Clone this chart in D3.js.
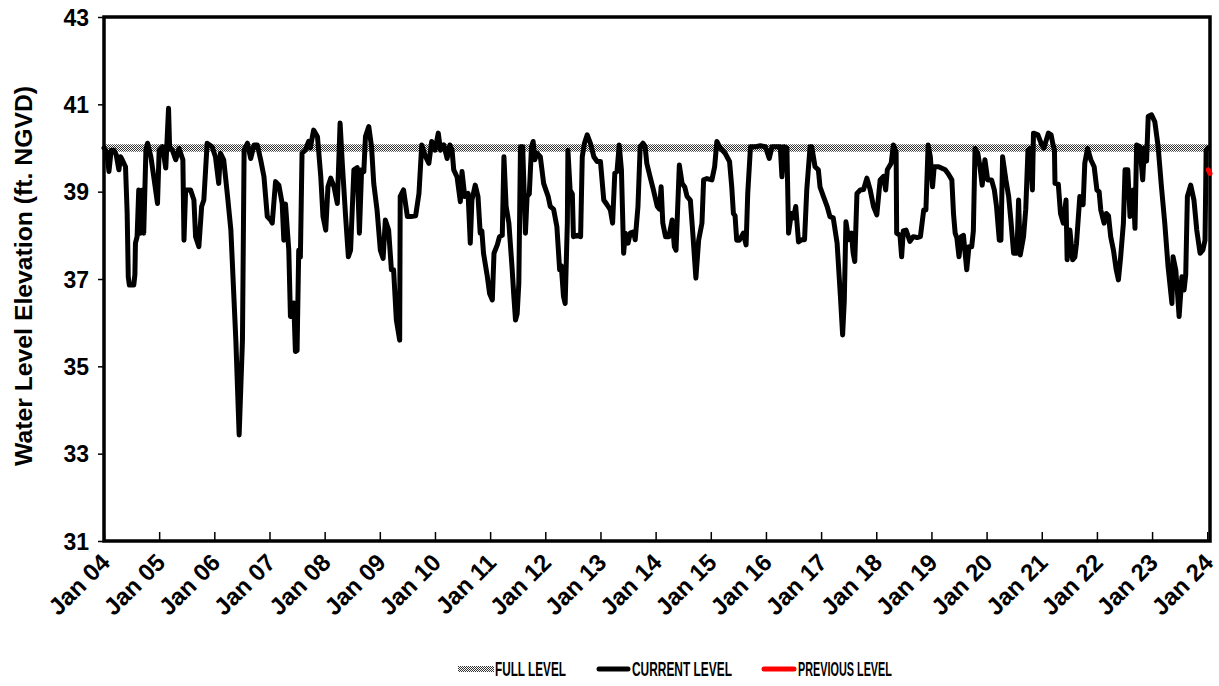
<!DOCTYPE html>
<html><head><meta charset="utf-8">
<script src="https://cdn.jsdelivr.net/npm/d3@7"></script>
<style>body{margin:0;background:#fff}svg{display:block}</style>
</head><body><svg id="c" width="1219" height="686"></svg>
<script>
// ---------- data ----------
const yearTicks = d3.range(2004, 2025);
const tickLabels = yearTicks.map(y => "Jan " + String(y % 100).padStart(2, "0"));
const yTicks = [31, 33, 35, 37, 39, 41, 43];
const yLabel = "Water Level Elevation (ft. NGVD)";
const legendLabels = ["FULL LEVEL", "CURRENT LEVEL", "PREVIOUS LEVEL"];
const fullLevel = 40;

const currentDates = [
2004.00,2004.03,2004.06,2004.09,2004.13,2004.18,2004.22,2004.27,2004.30,2004.33,2004.39,2004.42,2004.44,2004.46,2004.54,2004.56,2004.57,2004.60,2004.63,2004.66,2004.70,2004.72,2004.76,2004.79,2004.85,2004.91,2004.97,
2005.00,2005.06,2005.12,2005.17,2005.19,2005.24,2005.30,2005.36,2005.43,2005.45,2005.48,2005.57,2005.63,2005.66,2005.72,2005.77,2005.81,2005.87,2005.96,
2006.02,2006.08,2006.11,2006.17,2006.24,2006.30,2006.39,2006.45,2006.51,2006.54,2006.60,2006.66,2006.72,2006.78,2006.84,2006.90,2006.96,
2007.02,2007.05,2007.11,2007.17,2007.23,2007.26,2007.29,2007.35,2007.38,2007.44,2007.47,2007.50,2007.53,2007.56,2007.59,2007.65,2007.71,2007.74,2007.80,2007.87,2007.93,2007.97,
2008.02,2008.06,2008.11,2008.17,2008.23,2008.28,2008.32,2008.38,2008.43,2008.47,2008.53,2008.59,2008.63,2008.67,2008.71,2008.74,2008.80,2008.85,2008.89,2008.95,
2009.01,2009.06,2009.10,2009.16,2009.21,2009.25,2009.30,2009.36,2009.37,2009.43,2009.50,2009.56,2009.65,2009.71,2009.76,2009.83,2009.89,2009.94,
2010.00,2010.06,2010.10,2010.16,2010.22,2010.27,2010.31,2010.34,2010.40,2010.46,2010.49,2010.54,2010.60,2010.64,2010.67,2010.73,2010.78,2010.82,2010.85,2010.88,2010.95,2010.99,
2011.04,2011.07,2011.13,2011.17,2011.22,2011.25,2011.29,2011.34,2011.40,2011.43,2011.46,2011.49,2011.52,2011.55,2011.59,2011.64,2011.67,2011.71,2011.75,2011.78,2011.81,2011.85,2011.91,2011.97,
2012.01,2012.05,2012.09,2012.15,2012.21,2012.26,2012.29,2012.33,2012.36,2012.40,2012.41,2012.45,2012.49,2012.51,2012.58,2012.64,2012.67,2012.71,2012.76,2012.82,2012.88,2012.94,
2013.00,2013.06,2013.12,2013.18,2013.22,2013.26,2013.30,2013.34,2013.38,2013.42,2013.45,2013.50,2013.54,2013.60,2013.63,2013.68,2013.72,2013.77,2013.81,2013.84,2013.90,2013.96,
2014.03,2014.07,2014.10,2014.13,2014.18,2014.24,2014.30,2014.34,2014.37,2014.43,2014.48,2014.53,2014.57,2014.63,2014.67,2014.73,2014.78,2014.84,2014.87,2014.93,
2015.02,2015.07,2015.11,2015.17,2015.26,2015.34,2015.38,2015.41,2015.44,2015.47,2015.52,2015.59,2015.64,2015.67,2015.72,2015.81,2015.90,2015.99,
2016.06,2016.11,2016.26,2016.29,2016.33,2016.38,2016.41,2016.46,2016.50,2016.54,2016.59,2016.65,2016.70,2016.74,2016.80,2016.83,2016.89,2016.95,2016.98,
2017.04,2017.11,2017.16,2017.22,2017.29,2017.35,2017.39,2017.42,2017.45,2017.50,2017.55,2017.58,2017.61,2017.65,2017.71,2017.77,2017.83,2017.89,2017.95,
2018.01,2018.07,2018.13,2018.17,2018.20,2018.27,2018.31,2018.36,2018.37,2018.43,2018.46,2018.49,2018.54,2018.61,2018.67,2018.74,2018.80,2018.86,2018.90,2018.94,2018.98,
2019.02,2019.05,2019.13,2019.25,2019.31,2019.37,2019.40,2019.43,2019.46,2019.50,2019.54,2019.58,2019.64,2019.68,2019.73,2019.76,2019.79,2019.84,2019.88,2019.92,2019.97,
2020.02,2020.09,2020.14,2020.18,2020.23,2020.26,2020.29,2020.35,2020.40,2020.44,2020.49,2020.55,2020.58,2020.61,2020.67,2020.71,2020.75,2020.79,2020.83,2020.85,2020.93,
2021.00,2021.04,2021.12,2021.17,2021.20,2021.23,2021.24,2021.30,2021.34,2021.39,2021.44,2021.46,2021.51,2021.56,2021.60,2021.63,2021.69,2021.75,2021.78,2021.83,2021.89,2021.95,
2022.00,2022.04,2022.07,2022.13,2022.17,2022.21,2022.25,2022.30,2022.35,2022.39,2022.43,2022.48,2022.51,2022.56,2022.60,2022.66,2022.69,2022.72,2022.78,2022.83,2022.86,2022.90,2022.93,2022.99,
2023.05,2023.11,2023.17,2023.23,2023.29,2023.36,2023.38,2023.43,2023.46,2023.49,2023.54,2023.58,2023.61,2023.64,2023.70,2023.76,2023.81,2023.87,2023.92,2023.96,2023.98,2024.01
];
const currentLevels = [
40.0,39.95,39.8,39.46,39.95,39.95,39.85,39.5,39.8,39.73,39.57,38.5,37.05,36.86,36.86,37.1,37.82,37.97,39.04,38.05,39.04,38.05,39.95,40.11,39.80,39.27,38.73,
39.95,40.03,39.54,40.91,40.0,39.95,39.73,39.99,39.73,37.89,39.04,39.04,38.81,37.97,37.74,38.66,38.81,40.11,40.03,
39.80,39.19,39.88,39.73,38.89,38.12,35.60,33.43,35.60,39.95,40.11,39.76,40.07,40.07,39.73,39.34,38.43,
38.35,38.28,39.23,39.15,38.73,37.89,38.72,37.66,36.14,36.45,35.34,35.36,37.66,37.5,39.88,39.95,40.15,40.0,40.41,40.26,39.34,38.43,
38.12,39.11,39.31,39.11,38.73,40.57,39.65,38.43,37.51,37.66,39.50,39.55,38.05,39.50,39.46,40.26,40.49,40.03,39.19,38.58,
37.66,37.47,38.35,38.12,37.21,37.21,36.06,35.6,38.89,39.04,38.43,38.43,38.45,38.96,40.07,39.80,39.65,40.15,
39.95,40.34,39.95,40.07,39.76,40.07,39.95,39.50,39.34,38.77,39.46,38.89,38.96,37.82,38.81,39.15,38.89,38.05,38.1,37.59,37.05,36.67,
36.52,37.59,37.78,37.97,38.0,39.80,38.66,38.28,37.21,36.6,36.06,36.2,36.9,40.03,40.03,38.05,38.89,38.95,40.03,40.15,39.73,39.88,39.80,39.19,
39.04,38.9,38.66,38.6,38.2,37.21,37.3,36.6,36.44,38.3,39.95,39.04,38.95,37.97,38.0,37.97,39.80,40.11,40.30,40.1,39.8,39.69,
39.69,38.81,38.7,38.58,38.28,39.42,39.46,40.07,39.5,37.59,38.05,37.82,38.05,38.08,37.9,38.66,40.03,40.11,40.03,39.65,39.34,39.04,
38.66,38.6,39.11,38.28,37.97,37.97,38.35,37.74,37.66,39.61,39.19,39.1,38.89,38.8,38.12,37.02,37.89,38.28,39.27,39.3,
39.27,39.57,40.15,40.0,39.88,39.69,39.11,38.5,38.45,37.89,37.89,38.05,37.78,38.96,40.03,40.03,40.05,40.03,
39.76,40.03,40.03,39.34,40.03,40.0,38.05,38.5,38.4,38.66,37.85,37.9,37.9,39.04,40.03,40.03,39.57,39.5,39.11,
38.9,38.66,38.43,38.4,37.82,36.6,35.72,36.5,38.31,37.9,38.05,37.6,37.40,38.96,39.04,39.05,39.31,39.04,38.66,
38.47,39.27,39.35,39.04,39.5,39.65,40.07,39.9,38.05,38.0,37.51,38.1,38.12,37.86,37.97,37.95,37.97,38.58,38.58,40.07,39.8,
39.11,39.57,39.57,39.50,39.4,39.27,38.5,38.05,37.95,37.51,37.97,38.0,37.21,37.74,37.74,38.1,39.99,39.88,39.57,39.15,39.73,
39.27,39.27,39.04,38.66,37.89,37.89,39.80,39.27,38.89,38.35,37.59,37.59,38.81,37.55,37.97,38.6,39.95,39.99,39.04,40.34,40.3,
40.07,40.0,40.34,40.3,40.1,39.95,39.19,39.17,38.5,38.28,38.81,37.44,38.12,37.44,37.5,37.82,38.89,38.7,39.65,39.99,39.73,39.57,
39.04,39.0,38.58,38.28,38.5,38.45,37.97,37.66,37.21,36.98,37.5,38.28,39.50,39.50,38.43,39.04,38.16,40.07,40.03,39.27,40.0,39.7,40.72,40.76,
40.6,40.03,39.11,38.28,37.28,36.44,37.51,37.2,36.7,36.14,37.05,36.75,37.1,38.89,39.15,38.8,38.12,37.59,37.66,37.89,39.95,40.0
];
const previousDates = [2024.02, 2024.05];
const previousLevels = [39.5, 39.42];

// ---------- drawing ----------
const svg = d3.select("#c");
const mL = 104, mR = 1210, mT = 17, mB = 541;
const FONT = "Arial, 'Liberation Sans', sans-serif";

const x = d3.scaleLinear().domain([2004, 2024.05]).range([mL, mR]);
const y = d3.scaleLinear().domain([31, 43]).range([mB, mT]);

const defs = svg.append("defs");
const pat = defs.append("pattern").attr("id", "chk").attr("patternUnits", "userSpaceOnUse")
  .attr("width", 2).attr("height", 2);
pat.append("rect").attr("width", 2).attr("height", 2).attr("fill", "#fff");
pat.append("rect").attr("width", 1).attr("height", 1).attr("fill", "#333");
pat.append("rect").attr("x", 1).attr("y", 1).attr("width", 1).attr("height", 1).attr("fill", "#333");

// full level band
svg.append("rect")
  .attr("x", x(2004)).attr("width", x(2024.05) - x(2004))
  .attr("y", y(fullLevel) - 3.7).attr("height", 7.4)
  .attr("fill", "url(#chk)");

// current level line
const data = currentDates.map((d, i) => [d, currentLevels[i]]);
const line = d3.line().x(d => x(d[0])).y(d => y(d[1]));
svg.append("path").datum(data)
  .attr("d", line).attr("fill", "none").attr("stroke", "#000")
  .attr("stroke-width", 5).attr("stroke-linejoin", "round").attr("stroke-linecap", "round");

// y axis
const yAxis = svg.append("g").attr("transform", `translate(${mL},0)`)
  .call(d3.axisLeft(y).tickValues(yTicks).tickSize(6).tickPadding(9).tickFormat(d3.format("d")));
yAxis.select(".domain").remove();
yAxis.selectAll("line").attr("stroke", "#000").attr("stroke-width", 1.5);
yAxis.selectAll("text").attr("font-family", FONT)
  .attr("font-weight", "bold").attr("font-size", 23).attr("fill", "#000").attr("dy", "0.36em");

// x axis (inward ticks)
const xAxis = svg.append("g").attr("transform", `translate(0,${mB})`)
  .call(d3.axisBottom(x).tickValues(yearTicks).tickSize(-9).tickFormat((d, i) => tickLabels[i]));
xAxis.select(".domain").remove();
xAxis.selectAll("line").attr("stroke", "#000").attr("stroke-width", 1.5);
xAxis.selectAll("text")
  .attr("font-family", FONT)
  .attr("font-weight", "bold").attr("font-size", 24).attr("fill", "#000")
  .attr("text-anchor", "end").attr("x", 0).attr("y", 0).attr("dy", "0.35em")
  .attr("transform", "translate(1,17) rotate(-45)");

// frame
svg.append("rect").attr("x", mL).attr("y", mT).attr("width", mR - mL).attr("height", mB - mT)
  .attr("fill", "none").attr("stroke", "#000").attr("stroke-width", 3.5);

// previous level
const prev = previousDates.map((d, i) => [d, previousLevels[i]]);
svg.append("path").datum(prev).attr("d", line).attr("fill", "none")
  .attr("stroke", "#ff0000").attr("stroke-width", 5).attr("stroke-linecap", "round");

// y label
svg.append("text")
  .attr("transform", `translate(32,276) rotate(-90)`)
  .attr("text-anchor", "middle")
  .attr("font-family", FONT)
  .attr("font-weight", "bold").attr("font-size", 23)
  .attr("textLength", 380).attr("lengthAdjust", "spacingAndGlyphs")
  .text(yLabel);

// legend (condensed text via horizontal scale)
const lg = svg.append("g").attr("font-family", FONT)
  .attr("font-weight", "bold").attr("font-size", 20);
const ly = 669;
function legendText(label, x0, width) {
  const t = lg.append("text").attr("x", 0).attr("y", 0).text(label);
  const natural = t.node().getComputedTextLength();
  t.attr("transform", `translate(${x0},${ly + 7}) scale(${width / natural},1)`);
}
lg.append("rect").attr("x", 458).attr("y", ly - 3).attr("width", 36).attr("height", 6).attr("fill", "url(#chk)");
legendText(legendLabels[0], 495, 71);
lg.append("line").attr("x1", 599).attr("x2", 628).attr("y1", ly).attr("y2", ly)
  .attr("stroke", "#000").attr("stroke-width", 5).attr("stroke-linecap", "round");
legendText(legendLabels[1], 632, 100);
lg.append("line").attr("x1", 764).attr("x2", 794).attr("y1", ly).attr("y2", ly)
  .attr("stroke", "#ff0000").attr("stroke-width", 5).attr("stroke-linecap", "round");
legendText(legendLabels[2], 798, 94);
</script>
</body></html>
